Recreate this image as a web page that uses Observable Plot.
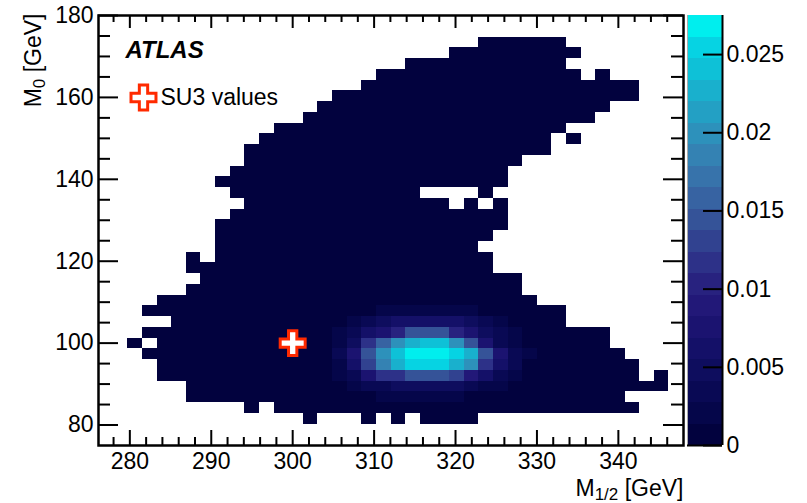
<!DOCTYPE html>
<html><head><meta charset="utf-8">
<script src="https://cdn.jsdelivr.net/npm/d3@7"></script>
<script src="https://cdn.jsdelivr.net/npm/@observablehq/plot@0.6"></script>
<style>
body{margin:0;background:#fff;}
#wrap{display:flex;width:807px;height:503px;overflow:hidden;}
#wrap svg{display:block;}
</style></head><body><div id="wrap"></div>
<script>
// ---- histogram binning (M1/2 on x, M0 on y) ----
const xRange = [276.15, 348];
const yRange = [75, 180];
const nBinsX = 40, nBinsY = 40;

// filled (non-zero) bins per row, top row first: [firstCol, lastCol] runs
const filledRuns = [
  [], [],
  [[26,31]],
  [[24,32]],
  [[21,31]],
  [[19,32],[34,34]],
  [[18,36]],
  [[16,36]],
  [[15,34]],
  [[14,33]],
  [[12,31]],
  [[11,30],[32,32]],
  [[10,30]],
  [[10,28]],
  [[9,27]],
  [[8,27]],
  [[9,21],[26,26]],
  [[10,23],[25,25],[27,27]],
  [[9,27]],
  [[8,27]],
  [[8,26]],
  [[8,25]],
  [[6,6],[8,26]],
  [[6,26]],
  [[7,28]],
  [[6,28]],
  [[4,29]],
  [[3,31]],
  [[5,31]],
  [[3,34]],
  [[2,2],[4,34]],
  [[3,35]],
  [[4,36]],
  [[4,36],[38,38]],
  [[6,38]],
  [[6,35]],
  [[10,10],[12,36]],
  [[14,14],[18,18],[20,20],[22,25]],
  [], []
];

// bin contents (x 1e-3) around the peak: rows 27..35 (top first), cols 16..29
const peakRowStart = 27, peakColStart = 16;
const peakValuesE3 = [
  [0.5,0.8,1.0,1.5,1.8,2.0,2.0,2.0,1.8,1.5,1.0,0.5,0.3,0.3],
  [1.0,1.8,3.0,4.5,5.5,6.5,6.5,6.5,5.5,4.5,3.0,1.8,1.0,0.5],
  [1.8,3.0,5.5,8.0,10.5,14.0,14.5,14.0,10.5,8.0,5.0,3.0,1.5,0.8],
  [2.5,5.0,11.0,15.5,19.5,22.5,24.0,23.5,20.5,14.5,8.0,4.0,2.0,1.0],
  [3.0,7.0,15.0,20.0,24.5,27.0,27.4,27.2,25.5,22.0,14.5,7.5,3.5,1.5],
  [2.5,6.0,13.0,18.0,22.5,24.8,25.5,25.0,23.0,20.0,11.5,6.0,3.0,1.0],
  [1.5,3.5,8.0,11.0,11.5,14.0,14.5,14.0,13.0,9.0,6.0,3.5,1.5,0.8],
  [0.8,1.5,3.0,4.0,4.5,5.0,5.0,5.0,4.5,3.5,2.5,1.5,0.8,0.5],
  [0.3,0.5,1.0,1.4,1.5,1.8,1.8,1.8,1.5,1.2,0.8,0.5,0.3,0.3]
];
const baseValueE3 = 0.3;

// SU3 benchmark point
const su3M12 = [300];
const su3M0 = [100];

// axis ticks
const xMajorTicks = [280, 290, 300, 310, 320, 330, 340];
const xMinorTicks = [278, 282, 284, 286, 288, 292, 294, 296, 298, 302, 304, 306, 308, 312, 314, 316, 318, 322, 324, 326, 328, 332, 334, 336, 338, 342, 344, 346];
const yMajorTicks = [80, 100, 120, 140, 160, 180];
const yMinorTicks = [85, 90, 95, 105, 110, 115, 125, 130, 135, 145, 150, 155, 165, 170, 175];

// colour bar
const zMax = 0.0275;
const cbTicks = [0, 0.005, 0.01, 0.015, 0.02, 0.025];
const cbTickLabels = ["0", "0.005", "0.01", "0.015", "0.02", "0.025"];
const bandColors = [
  "#02023e","#05064a","#090954","#0e0d5e","#141068","#1b1370","#221878","#28227f",
  "#2d3188","#314290","#355398","#3763a2","#3773ab","#3482b3","#2d91bb","#23a0c4",
  "#19b0cd","#0ec1d7","#06d3e3","#00eeee"
];

// ---- build ----
const nLevels = bandColors.length;
const step = zMax / nLevels;
const thresholds = d3.range(1, nLevels).map(i => i * step);
const colorScale = {type: "threshold", domain: thresholds, range: bandColors};

const bw = (xRange[1] - xRange[0]) / nBinsX;
const bh = (yRange[1] - yRange[0]) / nBinsY;
const cells = [];
filledRuns.forEach((runs, r) => {
  runs.forEach(([a, b]) => {
    for (let c = a; c <= b; c++) {
      const pr = r - peakRowStart, pc = c - peakColStart;
      let v = baseValueE3;
      if (pr >= 0 && pr < peakValuesE3.length && pc >= 0 && pc < peakValuesE3[0].length) v = peakValuesE3[pr][pc];
      cells.push({x1: xRange[0] + c * bw, x2: xRange[0] + (c + 1) * bw,
                  y1: yRange[1] - (r + 1) * bh, y2: yRange[1] - r * bh, v: v * 1e-3});
    }
  });
});
const su3 = su3M12.map((x, i) => ({x, y: su3M0[i]}));

const font = "'Liberation Sans', Arial, Helvetica, sans-serif";
const W = 686, H = 503, mL = 98, mR = 3, mT = 15, mB = 58;
const fw = W - mL - mR, fh = H - mT - mB;
const red = "#ff2a00";

const main = Plot.plot({
  width: W, height: H, marginLeft: mL, marginRight: mR, marginTop: mT, marginBottom: mB,
  x: {domain: xRange, axis: null},
  y: {domain: yRange, axis: null},
  color: colorScale,
  style: {fontFamily: font, fontSize: "23px", background: "white", color: "#000", overflow: "visible"},
  marks: [
    Plot.rect(cells, {x1: "x1", x2: "x2", y1: "y1", y2: "y2", fill: "v", shapeRendering: "crispEdges"}),
    Plot.tickX(xMajorTicks, {x: d => d, insetTop: fh - 15, stroke: "#000", strokeWidth: 2}),
    Plot.tickX(xMinorTicks, {x: d => d, insetTop: fh - 8, stroke: "#000", strokeWidth: 2}),
    Plot.tickX(xMajorTicks, {x: d => d, insetBottom: fh - 13, stroke: "#000", strokeWidth: 2}),
    Plot.tickX(xMinorTicks, {x: d => d, insetBottom: fh - 7, stroke: "#000", strokeWidth: 2}),
    Plot.tickY(yMajorTicks, {y: d => d, insetRight: fw - 20, stroke: "#000", strokeWidth: 2}),
    Plot.tickY(yMinorTicks, {y: d => d, insetRight: fw - 12, stroke: "#000", strokeWidth: 2}),
    Plot.tickY(yMajorTicks, {y: d => d, insetLeft: fw - 20, stroke: "#000", strokeWidth: 2}),
    Plot.tickY(yMinorTicks, {y: d => d, insetLeft: fw - 12, stroke: "#000", strokeWidth: 2}),
    Plot.frame({stroke: "#000", strokeWidth: 2.5}),
    Plot.text(xMajorTicks, {x: d => d, text: d => String(d), frameAnchor: "bottom", lineAnchor: "bottom", dy: 23.5, fontSize: 23, fill: "#000"}),
    Plot.text(yMajorTicks, {y: d => d, text: d => String(d), frameAnchor: "left", textAnchor: "end", lineAnchor: "middle", dx: -5, fontSize: 23, fill: "#000"}),
    Plot.text(["M1/2 [GeV]"], {text: d => d, frameAnchor: "bottom-right", textAnchor: "end", lineAnchor: "bottom", dy: 50, fontSize: 23, fill: "#000"}),
    Plot.text(["M0 [GeV]"], {text: d => d, frameAnchor: "top-left", textAnchor: "end", lineAnchor: "bottom", rotate: -90, dx: -58, dy: -2, fontSize: 23, fill: "#000"}),
    Plot.text(["ATLAS"], {text: d => d, frameAnchor: "top-left", textAnchor: "start", lineAnchor: "bottom", dx: 27, dy: 42, fontSize: 24, fontWeight: "bold", fontStyle: "italic", fill: "#000"}),
    Plot.dot([0], {frameAnchor: "top-left", dx: 45, dy: 82, symbol: "cross", r: 10.5, fill: "white", stroke: red, strokeWidth: 3}),
    Plot.text(["SU3 values"], {text: d => d, frameAnchor: "top-left", textAnchor: "start", lineAnchor: "bottom", dx: 62, dy: 89, fontSize: 23, fill: "#000"}),
    Plot.dot(su3, {x: "x", y: "y", symbol: "cross", r: 10.5, fill: "white", stroke: red, strokeWidth: 3})
  ]
});

const bands = bandColors.map((c, i) => ({lo: i * step, hi: (i + 1) * step, mid: (i + 0.5) * step}));
const cb = Plot.plot({
  width: 807 - W, height: H, marginLeft: 1, marginRight: 85, marginTop: mT, marginBottom: mB,
  x: {domain: [0, 1], axis: null},
  y: {domain: [0, zMax], axis: null},
  color: colorScale,
  style: {fontFamily: font, fontSize: "23px", background: "white", color: "#000", overflow: "visible"},
  marks: [
    Plot.rect(bands, {x1: 0, x2: 1, y1: "lo", y2: "hi", fill: "mid", shapeRendering: "crispEdges"}),
    Plot.ruleX([0], {stroke: "#aaa", strokeWidth: 1}),
    Plot.ruleX([1], {stroke: "#000", strokeWidth: 2}),
    Plot.ruleY([0], {stroke: "#000", strokeWidth: 2}),
    Plot.tickY(cbTicks, {y: d => d, insetLeft: 16, stroke: "#000", strokeWidth: 2}),
    Plot.text(cbTicks, {y: d => d, text: (d, i) => cbTickLabels[i], frameAnchor: "right", textAnchor: "start", lineAnchor: "middle", dx: 4, fontSize: 23, fill: "#000"})
  ]
});

function subscriptify(svg, full, head, sub, rest) {
  d3.select(svg).selectAll("text").filter(function() { return this.textContent === full; }).each(function() {
    const t = d3.select(this);
    t.text(null);
    t.append("tspan").text(head);
    t.append("tspan").attr("font-size", 17).attr("dy", 4).text(sub);
    t.append("tspan").attr("dy", -4).text(rest);
  });
}
subscriptify(main, "M1/2 [GeV]", "M", "1/2", " [GeV]");
subscriptify(main, "M0 [GeV]", "M", "0", " [GeV]");

document.getElementById("wrap").append(main, cb);
</script></body></html>
